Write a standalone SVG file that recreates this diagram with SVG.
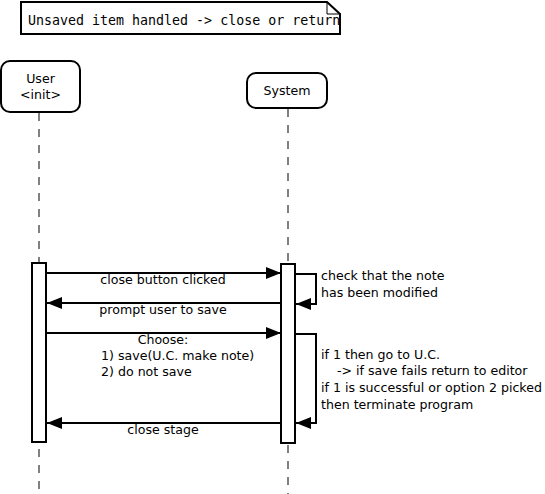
<svg xmlns="http://www.w3.org/2000/svg" width="545" height="494" viewBox="0 0 545 494">
<style>
.t{font-family:"DejaVu Sans",sans-serif;font-size:12.6px;fill:#000}
.m{font-family:"DejaVu Sans Mono",monospace;font-size:13.3px;fill:#000}
.box{fill:#fff;stroke:#000;stroke-width:2}
.life{stroke:#808080;stroke-width:2;stroke-dasharray:8,8;fill:none}
.msg{stroke:#000;stroke-width:2;fill:none}
</style>
<defs>
<marker id="ah" markerWidth="16" markerHeight="12" refX="15" refY="6" orient="auto" markerUnits="userSpaceOnUse">
<path d="M0,0 L15,6 L0,12 Z" fill="#000"/>
</marker>
<clipPath id="nc"><rect x="21" y="2" width="319" height="32"/></clipPath>
</defs>
<rect width="545" height="494" fill="#fff"/>
<g id="note">
<path d="M21,2 H327 L340,14 V34 H21 Z" class="box"/>
<path d="M327,2 V14 H340" fill="none" stroke="#000" stroke-width="1"/>
<text class="m" x="28" y="25" clip-path="url(#nc)">Unsaved item handled -&gt; close or return</text>
</g>
<g id="lifelines">
<line class="life" x1="39" y1="113" x2="39" y2="494"/>
<line class="life" x1="288" y1="109" x2="288" y2="494"/>
</g>
<g id="user">
<rect class="box" x="1" y="61" width="79" height="51" rx="9"/>
<text class="t" x="40.5" y="83" text-anchor="middle">User</text>
<text class="t" x="40.5" y="99" text-anchor="middle">&lt;init&gt;</text>
</g>
<g id="system">
<rect class="box" x="247" y="73" width="80" height="35" rx="9"/>
<text class="t" x="287" y="95" text-anchor="middle">System</text>
</g>
<g id="act-user"><rect class="box" x="32" y="263" width="14" height="179"/></g>
<g id="act-system"><rect class="box" x="281" y="264" width="14" height="179"/></g>
<g id="connectors">
<line class="msg" x1="46" y1="273" x2="281" y2="273" marker-end="url(#ah)"/>
<path class="msg" d="M295,274 H316 V304 H296" marker-end="url(#ah)"/>
<line class="msg" x1="281" y1="303" x2="47" y2="303" marker-end="url(#ah)"/>
<line class="msg" x1="46" y1="333" x2="281" y2="333" marker-end="url(#ah)"/>
<path class="msg" d="M295,334 H316 V423 H296" marker-end="url(#ah)"/>
<line class="msg" x1="281" y1="423" x2="47" y2="423" marker-end="url(#ah)"/>
</g>
<g id="labels">
<text class="t" x="163" y="284" text-anchor="middle">close button clicked</text>
<text class="t" x="321" y="280">check that the note</text>
<text class="t" x="321" y="297">has been modified</text>
<text class="t" x="163" y="314" text-anchor="middle">prompt user to save</text>
<text class="t" x="163" y="344" text-anchor="middle">Choose:</text>
<text class="t" x="101" y="360">1) save(U.C. make note)</text>
<text class="t" x="101" y="376">2) do not save</text>
<text class="t" x="321" y="359">if 1 then go to U.C.</text>
<text class="t" x="321" y="375" xml:space="preserve">    -&gt; if save fails return to editor</text>
<text class="t" x="321" y="392">if 1 is successful or option 2 picked</text>
<text class="t" x="321" y="409">then terminate program</text>
<text class="t" x="163" y="434" text-anchor="middle">close stage</text>
</g>
</svg>
